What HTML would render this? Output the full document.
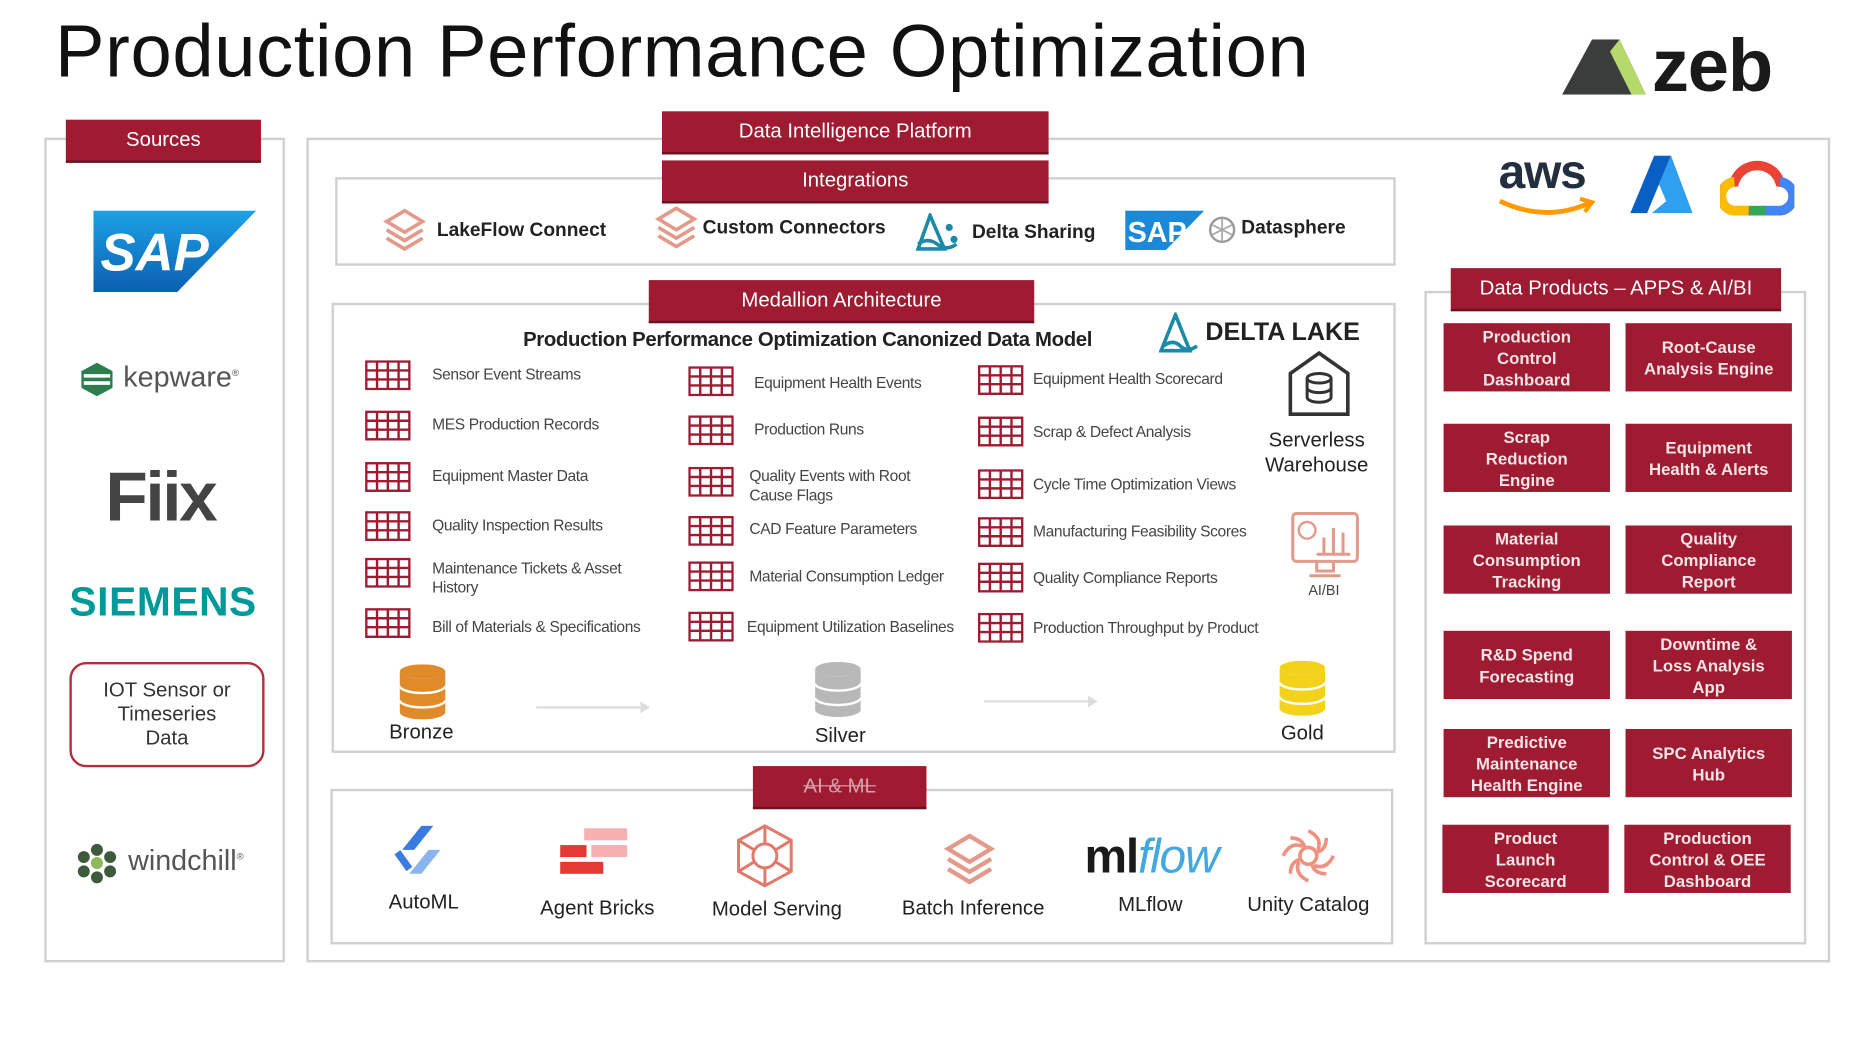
<!DOCTYPE html>
<html><head><meta charset="utf-8">
<style>
html,body{margin:0;padding:0;background:#fff;width:1872px;height:1052px;overflow:hidden}
#w{position:absolute;left:0;top:0;width:1560px;height:877px;transform:scale(1.197);transform-origin:0 0;font-family:"Liberation Sans",Arial,sans-serif}
.a{position:absolute}
.box{position:absolute;border:2px solid #d0d0d0;box-sizing:border-box}
.lbl{position:absolute;background:#9e1b32;color:#fff;font-size:17px;display:flex;align-items:center;justify-content:center;box-sizing:border-box;border-bottom:2px solid #6d1020}
.t{position:absolute;font-size:13px;color:#444;line-height:16px;letter-spacing:-0.3px}
.ti{position:absolute;width:38px;height:25px}
.dp{position:absolute;background:#9e1b32;color:#f3e4e6;font-size:14px;font-weight:bold;line-height:18px;text-align:center;display:flex;align-items:center;justify-content:center;width:139px;height:57px}
.c{position:absolute;font-size:17px;color:#222;transform:translateX(-50%);white-space:nowrap}
.ig{position:absolute;font-size:16px;font-weight:bold;color:#222;white-space:nowrap}
</style></head><body><div id="w">
<svg width="0" height="0" style="position:absolute"><defs>
<symbol id="tb" viewBox="0 0 38 25"><rect x="1" y="1" width="36" height="23" fill="#fff" stroke="#9e1b32" stroke-width="2"/><path d="M10 1V24M19 1V24M28 1V24M1 8.5H37M1 16H37" stroke="#9e1b32" stroke-width="2"/></symbol>
<symbol id="db" viewBox="0 0 40 46"><ellipse cx="20" cy="6" rx="19" ry="6"/><path d="M1 6v34c0 3 8 6 19 6s19-3 19-6V6c0 3-8 6-19 6S1 9 1 6z"/></symbol>
<symbol id="lay" viewBox="0 0 36 40"><path d="M18 2L33 11L18 20L3 11Z M3 18L18 27L33 18 M3 25L18 34L33 25" fill="none" stroke="#e39a8a" stroke-width="3"/></symbol>
</defs></svg>

<div class="a" style="left:46px;top:8px;font-size:62px;color:#111;white-space:nowrap;letter-spacing:0.5px">Production Performance Optimization</div>
<svg class="a" style="left:1305px;top:33px" width="72" height="46"><polygon points="25,0 48,0 70,46 0,46" fill="#3a3d3b"/><polygon points="48,0 70,46 58,46 40,10" fill="#b5d96a"/></svg>
<div class="a" style="left:1380px;top:20px;font-size:62px;font-weight:bold;color:#1a1a1a;letter-spacing:-1px">zeb</div>

<!-- Sources -->
<div class="box" style="left:37px;top:115px;width:201px;height:689px"></div>
<div class="lbl" style="left:55px;top:100px;width:163px;height:36px">Sources</div>
<svg class="a" style="left:78px;top:176px" width="136" height="68"><defs><linearGradient id="sg" x1="0" y1="0" x2="0" y2="1"><stop offset="0" stop-color="#1ea2e6"/><stop offset="1" stop-color="#0a5fb0"/></linearGradient></defs><polygon points="0,0 136,0 70,68 0,68" fill="url(#sg)"/><text x="6" y="50" font-family="Liberation Sans" font-weight="bold" font-size="44" fill="#fff" font-style="italic">SAP</text></svg>
<svg class="a" style="left:66px;top:302px" width="30" height="30"><polygon points="15,1 28,8 28,22 15,29 2,22 2,8" fill="#2e7d4f"/><path d="M4 12H26M4 18H26" stroke="#fff" stroke-width="3"/></svg>
<div class="a" style="left:103px;top:302px;font-size:24px;color:#555">kepware<sup style="font-size:8px">®</sup></div>
<div class="a" style="left:88px;top:382px;font-size:58px;font-weight:bold;color:#444;letter-spacing:-2px">Fiix</div>
<div class="a" style="left:58px;top:484px;font-size:34px;font-weight:bold;color:#009999;letter-spacing:0.5px">SIEMENS</div>
<div class="a" style="left:58px;top:553px;width:163px;height:88px;border:2px solid #b03040;border-radius:14px;box-sizing:border-box;font-size:17px;color:#333;text-align:center;line-height:20px;display:flex;align-items:center;justify-content:center">IOT Sensor or<br>Timeseries<br>Data</div>
<svg class="a" style="left:64px;top:704px" width="34" height="34"><g fill="#3d5a3d"><circle cx="17" cy="6" r="5"/><circle cx="28" cy="12" r="5"/><circle cx="28" cy="24" r="5"/><circle cx="17" cy="29" r="5"/><circle cx="6" cy="24" r="5"/><circle cx="6" cy="12" r="5"/></g><circle cx="17" cy="17" r="5" fill="#8fb85a"/></svg>
<div class="a" style="left:107px;top:706px;font-size:24px;color:#555">windchill<sup style="font-size:8px">®</sup></div>

<!-- main -->
<div class="box" style="left:256px;top:115px;width:1273px;height:689px"></div>
<div class="box" style="left:280px;top:148px;width:886px;height:74px"></div>
<div class="lbl" style="left:553px;top:93px;width:323px;height:36px">Data Intelligence Platform</div>
<div class="lbl" style="left:553px;top:134px;width:323px;height:36px">Integrations</div>
<svg class="a" style="left:320px;top:174px" width="36" height="40"><use href="#lay"/></svg>
<div class="ig" style="left:365px;top:184px">LakeFlow Connect</div>
<svg class="a" style="left:547px;top:172px" width="36" height="40"><use href="#lay"/></svg>
<div class="ig" style="left:587px;top:182px">Custom Connectors</div>
<svg class="a" style="left:765px;top:178px" width="36" height="34"><polygon points="12,2 2,30 24,30" fill="none" stroke="#1b8aa8" stroke-width="3"/><path d="M2 26q8-6 16 0t16 0" stroke="#1b8aa8" stroke-width="3" fill="none"/><circle cx="28" cy="12" r="3" fill="#1b8aa8"/><circle cx="32" cy="22" r="3" fill="#1b8aa8"/></svg>
<div class="ig" style="left:812px;top:186px">Delta Sharing</div>
<svg class="a" style="left:940px;top:176px" width="66" height="33"><polygon points="0,0 66,0 34,33 0,33" fill="#1a8ad8"/><text x="2" y="26" font-family="Liberation Sans" font-weight="bold" font-size="24" fill="#fff">SAP</text></svg>
<svg class="a" style="left:1009px;top:180px" width="24" height="24"><circle cx="12" cy="12" r="10" fill="none" stroke="#999" stroke-width="2"/><path d="M4 8L20 16M4 16L20 8M12 2V22" stroke="#aaa" stroke-width="1.5"/></svg>
<div class="ig" style="left:1037px;top:182px">Datasphere</div>

<!-- medallion -->
<div class="box" style="left:277px;top:253px;width:889px;height:376px"></div>
<div class="lbl" style="left:542px;top:234px;width:322px;height:36px">Medallion Architecture</div>
<div class="a" style="left:437px;top:274px;font-size:17px;font-weight:bold;color:#222;white-space:nowrap;letter-spacing:-0.3px">Production Performance Optimization Canonized Data Model</div>
<svg class="a" style="left:968px;top:261px" width="34" height="36"><polygon points="14,2 2,32 26,32" fill="none" stroke="#1b8aa8" stroke-width="3"/><path d="M4 28q8-6 14 0t14 0" stroke="#1b8aa8" stroke-width="3" fill="none"/></svg>
<div class="a" style="left:1007px;top:266px;font-size:21px;font-weight:bold;color:#222">DELTA LAKE</div>

<svg class="ti" style="left:305px;top:301px"><use href="#tb"/></svg><div class="t" style="left:361px;top:305px">Sensor Event Streams</div>
<svg class="ti" style="left:305px;top:343px"><use href="#tb"/></svg><div class="t" style="left:361px;top:347px">MES Production Records</div>
<svg class="ti" style="left:305px;top:386px"><use href="#tb"/></svg><div class="t" style="left:361px;top:390px">Equipment Master Data</div>
<svg class="ti" style="left:305px;top:427px"><use href="#tb"/></svg><div class="t" style="left:361px;top:431px">Quality Inspection Results</div>
<svg class="ti" style="left:305px;top:466px"><use href="#tb"/></svg><div class="t" style="left:361px;top:467px">Maintenance Tickets &amp; Asset<br>History</div>
<svg class="ti" style="left:305px;top:508px"><use href="#tb"/></svg><div class="t" style="left:361px;top:516px">Bill of Materials &amp; Specifications</div>

<svg class="ti" style="left:575px;top:306px"><use href="#tb"/></svg><div class="t" style="left:630px;top:312px">Equipment Health Events</div>
<svg class="ti" style="left:575px;top:347px"><use href="#tb"/></svg><div class="t" style="left:630px;top:351px">Production Runs</div>
<svg class="ti" style="left:575px;top:390px"><use href="#tb"/></svg><div class="t" style="left:626px;top:390px">Quality Events with Root<br>Cause Flags</div>
<svg class="ti" style="left:575px;top:431px"><use href="#tb"/></svg><div class="t" style="left:626px;top:434px">CAD Feature Parameters</div>
<svg class="ti" style="left:575px;top:469px"><use href="#tb"/></svg><div class="t" style="left:626px;top:474px">Material Consumption Ledger</div>
<svg class="ti" style="left:575px;top:511px"><use href="#tb"/></svg><div class="t" style="left:624px;top:516px">Equipment Utilization Baselines</div>

<svg class="ti" style="left:817px;top:305px"><use href="#tb"/></svg><div class="t" style="left:863px;top:309px">Equipment Health Scorecard</div>
<svg class="ti" style="left:817px;top:348px"><use href="#tb"/></svg><div class="t" style="left:863px;top:353px">Scrap &amp; Defect Analysis</div>
<svg class="ti" style="left:817px;top:392px"><use href="#tb"/></svg><div class="t" style="left:863px;top:397px">Cycle Time Optimization Views</div>
<svg class="ti" style="left:817px;top:432px"><use href="#tb"/></svg><div class="t" style="left:863px;top:436px">Manufacturing Feasibility Scores</div>
<svg class="ti" style="left:817px;top:470px"><use href="#tb"/></svg><div class="t" style="left:863px;top:475px">Quality Compliance Reports</div>
<svg class="ti" style="left:817px;top:512px"><use href="#tb"/></svg><div class="t" style="left:863px;top:517px">Production Throughput by Product</div>

<svg class="a" style="left:1074px;top:292px" width="56" height="56"><path d="M4 20L28 3L52 20V54H4Z" fill="none" stroke="#333" stroke-width="3"/><ellipse cx="28" cy="24" rx="10" ry="4" fill="none" stroke="#333" stroke-width="2.5"/><path d="M18 24v16c0 2 4 4 10 4s10-2 10-4V24M18 32c0 2 4 4 10 4s10-2 10-4" fill="none" stroke="#333" stroke-width="2.5"/></svg>
<div class="c" style="left:1100px;top:357px;text-align:center;line-height:21px">Serverless<br>Warehouse</div>
<svg class="a" style="left:1078px;top:427px" width="58" height="60"><rect x="2" y="2" width="54" height="40" rx="3" fill="none" stroke="#e39a8a" stroke-width="2.5"/><circle cx="14" cy="16" r="7" fill="none" stroke="#e39a8a" stroke-width="2"/><path d="M28 36V22M36 36V14M44 36V18M22 36h28" stroke="#e39a8a" stroke-width="2.5"/><path d="M22 42v8h14v-8M16 54h26" stroke="#e39a8a" stroke-width="2.5" fill="none"/></svg>
<div class="a" style="left:1093px;top:486px;font-size:12px;color:#444">AI/BI</div>

<svg class="a" style="left:333px;top:555px" width="40" height="46" fill="#e08a2a"><use href="#db"/><path d="M1 18c0 3 8 6 19 6s19-3 19-6M1 30c0 3 8 6 19 6s19-3 19-6" stroke="#fff" stroke-width="2" fill="none"/></svg>
<div class="c" style="left:352px;top:602px">Bronze</div>
<svg class="a" style="left:680px;top:553px" width="40" height="46" fill="#b8b8b8"><use href="#db"/><path d="M1 18c0 3 8 6 19 6s19-3 19-6M1 30c0 3 8 6 19 6s19-3 19-6" stroke="#fff" stroke-width="2" fill="none"/></svg>
<div class="c" style="left:702px;top:605px">Silver</div>
<svg class="a" style="left:1068px;top:552px" width="40" height="46" fill="#f3d21c"><use href="#db"/><path d="M1 18c0 3 8 6 19 6s19-3 19-6M1 30c0 3 8 6 19 6s19-3 19-6" stroke="#fff" stroke-width="2" fill="none"/></svg>
<div class="c" style="left:1088px;top:603px">Gold</div>
<svg class="a" style="left:445px;top:583px" width="100" height="16"><path d="M3 8H92" stroke="#ddd" stroke-width="2"/><polygon points="90,3 98,8 90,13" fill="#ddd"/></svg>
<svg class="a" style="left:819px;top:578px" width="100" height="16"><path d="M3 8H92" stroke="#ddd" stroke-width="2"/><polygon points="90,3 98,8 90,13" fill="#ddd"/></svg>

<!-- AI & ML -->
<div class="box" style="left:276px;top:659px;width:888px;height:130px"></div>
<div class="lbl" style="left:629px;top:640px;width:145px;height:36px;color:#d8a0aa;text-decoration:line-through">AI &amp; ML</div>
<svg class="a" style="left:328px;top:686px" width="48" height="50"><path d="M8 24L24 4H34L18 24Z" fill="#3b7be0"/><path d="M40 24L24 44H14L30 24Z" fill="#8ab4f0"/><path d="M4 26L14 40" stroke="#3b7be0" stroke-width="6"/></svg>
<div class="c" style="left:354px;top:744px">AutoML</div>
<svg class="a" style="left:466px;top:690px" width="60" height="48"><rect x="22" y="2" width="36" height="10" fill="#f7b0b0"/><rect x="2" y="16" width="22" height="10" fill="#e53935"/><rect x="28" y="16" width="30" height="10" fill="#f7b0b0"/><rect x="2" y="30" width="36" height="10" fill="#e53935"/></svg>
<div class="c" style="left:499px;top:749px">Agent Bricks</div>
<svg class="a" style="left:611px;top:687px" width="56" height="56" fill="none" stroke="#e07a6a" stroke-width="2.5"><polygon points="28,3 50,15 50,41 28,53 6,41 6,15"/><circle cx="28" cy="28" r="10"/><path d="M28 3V18M28 38V53M6 15L19 23M50 41L37 33M50 15L37 23M6 41L19 33"/></svg>
<div class="c" style="left:649px;top:750px">Model Serving</div>
<svg class="a" style="left:788px;top:696px" width="44" height="48"><use href="#lay"/></svg>
<div class="c" style="left:813px;top:749px">Batch Inference</div>
<div class="a" style="left:906px;top:694px;font-size:40px;font-weight:bold;color:#1a1a1a;letter-spacing:-1px;white-space:nowrap">ml<span style="color:#43a8e0;font-style:italic;font-weight:normal">flow</span></div>
<div class="c" style="left:961px;top:746px">MLflow</div>
<svg class="a" style="left:1068px;top:690px" width="50" height="50" fill="none" stroke="#f09080" stroke-width="3"><circle cx="25" cy="25" r="7"/><path d="M25 4q12 6 8 16M46 25q-6 12-16 8M25 46q-12-6-8-16M4 25q6-12 16-8M10 10q10 0 12 8M40 10q0 10-8 12M40 40q-10 0-12-8M10 40q0-10 8-12"/></svg>
<div class="c" style="left:1093px;top:746px">Unity Catalog</div>

<!-- clouds -->
<div class="a" style="left:1252px;top:122px;font-size:40px;font-weight:bold;color:#232f3e;letter-spacing:-1px">aws</div>
<svg class="a" style="left:1250px;top:164px" width="84" height="20"><path d="M3 4q38 18 74 2" stroke="#f90" stroke-width="4" fill="none"/><path d="M70 2L80 5L74 13" stroke="#f90" stroke-width="3.5" fill="none"/></svg>
<svg class="a" style="left:1362px;top:130px" width="52" height="50"><polygon points="20,0 34,0 14,48 0,48" fill="#0a5fc4"/><polygon points="34,0 52,48 18,48 30,38 24,24" fill="#2f9ff0"/></svg>
<svg class="a" style="left:1437px;top:130px" width="62" height="50"><path d="M14 46a12 12 0 0 1 -2 -24a20 20 0 0 1 38 0a12 12 0 0 1 -2 24Z" fill="none" stroke="#ea4335" stroke-width="8"/><path d="M12 22a12 12 0 0 0 2 24h10" fill="none" stroke="#fbbc05" stroke-width="8"/><path d="M50 22a12 12 0 0 1 -2 24H34" fill="none" stroke="#4285f4" stroke-width="8"/><path d="M24 46H38" stroke="#34a853" stroke-width="8"/></svg>

<!-- data products -->
<div class="box" style="left:1190px;top:243px;width:319px;height:546px"></div>
<div class="lbl" style="left:1212px;top:224px;width:276px;height:36px">Data Products – APPS &amp; AI/BI</div>
<div class="dp" style="left:1206px;top:270px">Production<br>Control<br>Dashboard</div>
<div class="dp" style="left:1358px;top:270px">Root-Cause<br>Analysis Engine</div>
<div class="dp" style="left:1206px;top:354px">Scrap<br>Reduction<br>Engine</div>
<div class="dp" style="left:1358px;top:354px">Equipment<br>Health &amp; Alerts</div>
<div class="dp" style="left:1206px;top:439px">Material<br>Consumption<br>Tracking</div>
<div class="dp" style="left:1358px;top:439px">Quality<br>Compliance<br>Report</div>
<div class="dp" style="left:1206px;top:527px">R&amp;D Spend<br>Forecasting</div>
<div class="dp" style="left:1358px;top:527px">Downtime &amp;<br>Loss Analysis<br>App</div>
<div class="dp" style="left:1206px;top:609px">Predictive<br>Maintenance<br>Health Engine</div>
<div class="dp" style="left:1358px;top:609px">SPC Analytics<br>Hub</div>
<div class="dp" style="left:1205px;top:689px">Product<br>Launch<br>Scorecard</div>
<div class="dp" style="left:1357px;top:689px">Production<br>Control &amp; OEE<br>Dashboard</div>
</div></body></html>
